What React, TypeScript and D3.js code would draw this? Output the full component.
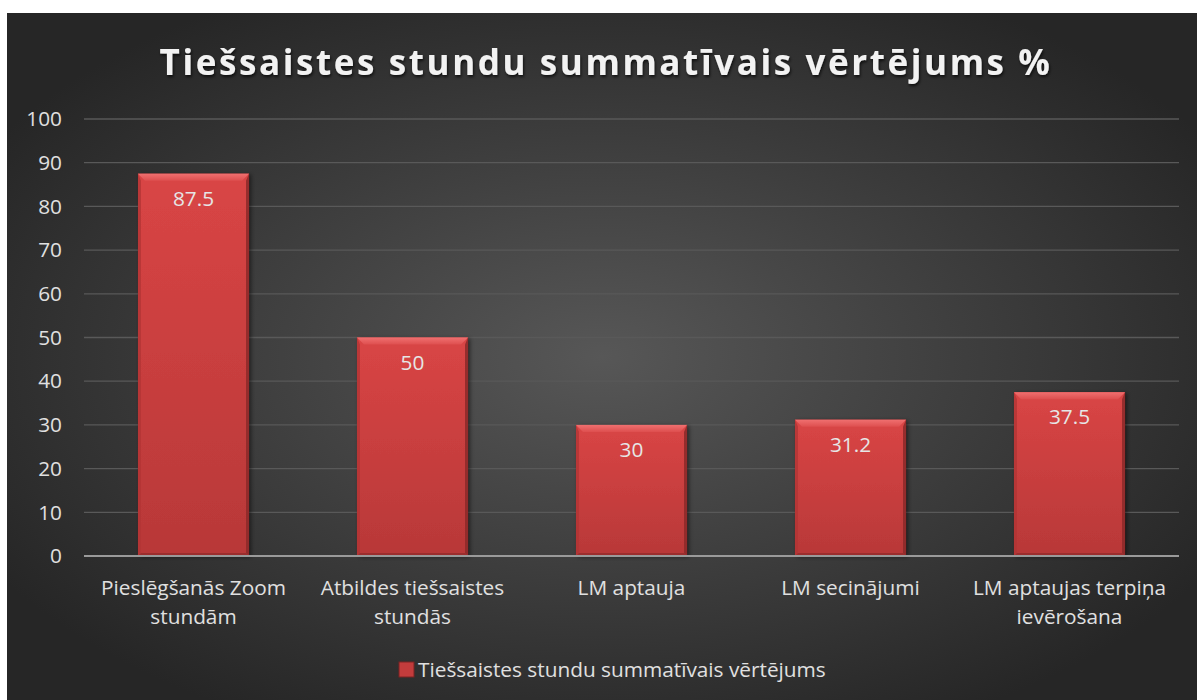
import React from 'react';
import * as d3 from 'd3';

const categories = [
  ['Pieslēgšanās Zoom', 'stundām'],
  ['Atbildes tiešsaistes', 'stundās'],
  ['LM aptauja'],
  ['LM secinājumi'],
  ['LM aptaujas terpiņa', 'ievērošana'],
];
const values = [87.5, 50, 30, 31.2, 37.5];
const yTicks = [0, 10, 20, 30, 40, 50, 60, 70, 80, 90, 100];
const title = 'Tiešsaistes stundu summatīvais vērtējums %';
const seriesName = 'Tiešsaistes stundu summatīvais vērtējums';

const W = 1197;
const H = 700;
const font = '"Open Sans", Lato, sans-serif';
const fs = 20.8;

const App = () => {
  const left = 84;
  const right = 1179;
  const x = d3
    .scaleBand<number>()
    .domain(d3.range(categories.length))
    .range([left, right])
    .paddingInner(0.493)
    .paddingOuter(0.2465);
  const y = d3.scaleLinear().domain([0, 100]).range([556, 119]);
  const bw = x.bandwidth();
  const bev = 7;
  const side = 3;

  return (
    <svg width={W} height={H} style={{ position: 'absolute', left: 0, top: 0 }}>
      <defs>
        <radialGradient id="bg" cx="0.5" cy="0.5" r="0.6">
          <stop offset="0" stopColor="#575757" />
          <stop offset="1" stopColor="#262626" />
        </radialGradient>
        <linearGradient id="barFill" x1="0" y1="0" x2="0" y2="1">
          <stop offset="0" stopColor="#d94545" />
          <stop offset="1" stopColor="#b83838" />
        </linearGradient>
        <linearGradient id="topBev" x1="0" y1="0" x2="0" y2="1">
          <stop offset="0" stopColor="#f07070" />
          <stop offset="1" stopColor="#de4f4f" />
        </linearGradient>
        <filter id="tshadow" x="-5%" y="-30%" width="110%" height="160%">
          <feDropShadow dx="1" dy="2" stdDeviation="1.5" floodColor="#000" floodOpacity="0.7" />
        </filter>
        <filter id="bshadow" x="-10%" y="-5%" width="125%" height="110%">
          <feDropShadow dx="2" dy="1" stdDeviation="2" floodColor="#000" floodOpacity="0.5" />
        </filter>
      </defs>
      <rect x={7} y={13} width={W - 7} height={H - 13} fill="url(#bg)" />

      <text
        x={606}
        y={75}
        textAnchor="middle"
        fill="#f2f2f2"
        fontFamily={font}
        fontWeight="bold"
        fontSize={35}
        letterSpacing={2.6}
        filter="url(#tshadow)"
      >
        {title}
      </text>

      {yTicks.map((t) => (
        <g key={t}>
          {t > 0 && (
            <line x1={left} x2={right} y1={y(t)} y2={y(t)} stroke="#595959" strokeWidth={1.3} />
          )}
          <text
            x={62}
            y={y(t)}
            dy="0.35em"
            textAnchor="end"
            fill="#e0e0e0"
            fontFamily={font}
            fontSize={fs}
          >
            {t}
          </text>
        </g>
      ))}

      {values.map((v, i) => {
        const x0 = x(i) as number;
        const y0 = y(v);
        const y1 = y(0);
        return (
          <g key={i}>
            <rect x={x0} y={y0} width={bw} height={y1 - y0} fill="url(#barFill)" filter="url(#bshadow)" />
            <polygon
              points={`${x0},${y0} ${x0 + bw},${y0} ${x0 + bw - bev},${y0 + bev} ${x0 + bev},${y0 + bev}`}
              fill="url(#topBev)"
            />
            <polygon
              points={`${x0},${y0} ${x0 + side},${y0 + bev} ${x0 + side},${y1 - side} ${x0},${y1}`}
              fill="#b33535"
              opacity={0.8}
            />
            <polygon
              points={`${x0 + bw},${y0} ${x0 + bw - side},${y0 + bev} ${x0 + bw - side},${y1 - side} ${x0 + bw},${y1}`}
              fill="#8e2a2a"
              opacity={0.9}
            />
            <polygon
              points={`${x0},${y1} ${x0 + side},${y1 - side} ${x0 + bw - side},${y1 - side} ${x0 + bw},${y1}`}
              fill="#8e2a2a"
              opacity={0.7}
            />
            <text
              x={x0 + bw / 2}
              y={y0 + 25}
              dy="0.35em"
              textAnchor="middle"
              fill="#e6e6e6"
              fontFamily={font}
              fontSize={fs}
            >
              {v}
            </text>
          </g>
        );
      })}

      <line x1={left} x2={right} y1={y(0)} y2={y(0)} stroke="#9a9a9a" strokeWidth={2} />

      {categories.map((lines, i) => (
        <text
          key={i}
          x={(x(i) as number) + bw / 2}
          y={588}
          textAnchor="middle"
          fill="#e0e0e0"
          fontFamily={font}
          fontSize={fs}
        >
          {lines.map((l, j) => (
            <tspan key={j} x={(x(i) as number) + bw / 2} dy={j === 0 ? '0.35em' : 29}>
              {l}
            </tspan>
          ))}
        </text>
      ))}

      <rect x={399} y={662} width={15} height={15} fill="#c23c3c" stroke="#7a2222" strokeWidth={1} />
      <text x={418} y={669.5} dy="0.35em" fill="#e0e0e0" fontFamily={font} fontSize={fs}>
        {seriesName}
      </text>
    </svg>
  );
};

export default App;
